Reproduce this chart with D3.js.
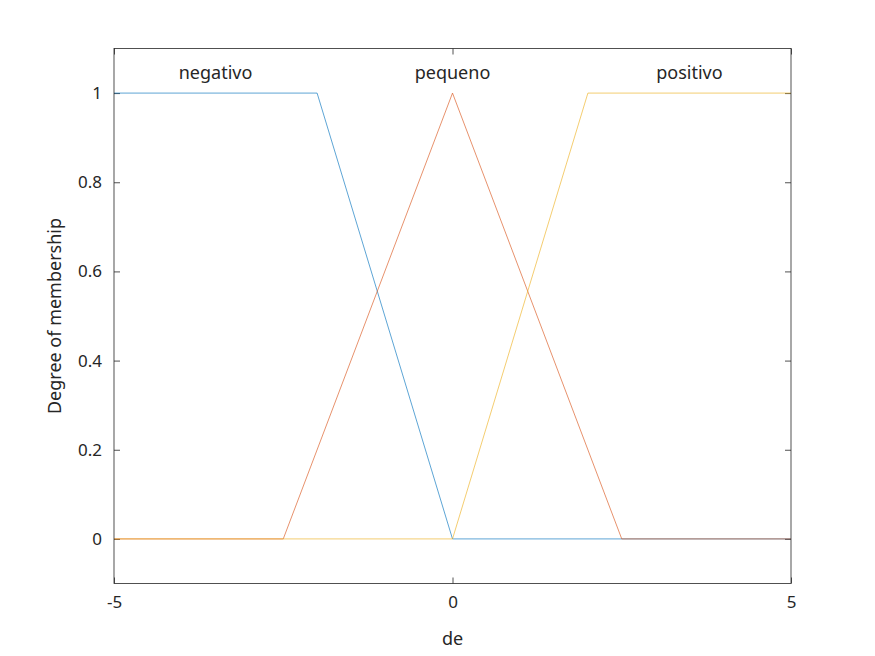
<!DOCTYPE html>
<html><head><meta charset="utf-8">
<script src="https://cdn.jsdelivr.net/npm/d3@7"></script>
<style>body{margin:0;background:#fff}text{font-family:"Noto Sans",sans-serif;fill:#262626}</style>
</head><body>
<svg id="c" width="875" height="656"></svg>
<script>
const mfNames = ["negativo","pequeno","positivo"];
const mfX = [[-5,-2,0,5],[-5,-2.5,0,2.5,5],[-5,0,2,5]];
const mfY = [[1,1,0,0],[0,0,1,0,0],[0,0,1,1]];
const labelX = [-3.5,0,3.5];
const colors = ["#0072BD","#D95319","#EDB120"];
const xTicks = [-5,0,5];
const yTicks = [0,0.2,0.4,0.6,0.8,1];

const svg = d3.select("#c");
const L=114,R=791,T=48.5,B=583.5;
const x = d3.scaleLinear().domain([-5,5]).range([L,R]);
const y = d3.scaleLinear().domain([-0.1,1.1]).range([B,T]);
svg.append("rect").attr("x",L).attr("y",T).attr("width",R-L).attr("height",B-T).attr("fill","#fff");
svg.append("g").attr("transform",`translate(0,${B})`).call(d3.axisBottom(x).tickValues(xTicks).tickSize(-6).tickPadding(12).tickFormat(d=>d));
svg.append("g").attr("transform",`translate(${L},0)`).call(d3.axisLeft(y).tickValues(yTicks).tickSize(-6).tickPadding(12).tickFormat(d=>d));
svg.append("g").attr("transform",`translate(0,${T})`).call(d3.axisTop(x).tickValues(xTicks).tickSize(-6).tickFormat(""));
svg.append("g").attr("transform",`translate(${R},0)`).call(d3.axisRight(y).tickValues(yTicks).tickSize(-6).tickFormat(""));
svg.selectAll(".domain").remove();
svg.selectAll(".tick line").attr("stroke","#262626").attr("stroke-width",0.8);
svg.selectAll(".tick text").attr("font-size",17).attr("font-family","Noto Sans").attr("fill","#262626");
const line = d3.line().x(d=>x(d[0])).y(d=>y(d[1]));
mfX.forEach((xs,i)=>{
  svg.append("path").attr("d",line(xs.map((v,j)=>[v,mfY[i][j]]))).attr("fill","none").attr("stroke",colors[i]).attr("stroke-width",0.8).attr("stroke-opacity",0.8);
  svg.append("text").attr("x",x(labelX[i])).attr("y",y(1)-14).attr("text-anchor","middle").attr("font-size",18).text(mfNames[i]);
});
svg.append("rect").attr("x",L).attr("y",T).attr("width",R-L).attr("height",B-T).attr("fill","none").attr("stroke","#262626").attr("stroke-width",0.8);
svg.append("text").attr("x",(L+R)/2).attr("y",645).attr("text-anchor","middle").attr("font-size",18).text("de");
svg.append("text").attr("transform",`translate(61,${(T+B)/2}) rotate(-90)`).attr("text-anchor","middle").attr("font-size",18).text("Degree of membership");
</script>
</body></html>
